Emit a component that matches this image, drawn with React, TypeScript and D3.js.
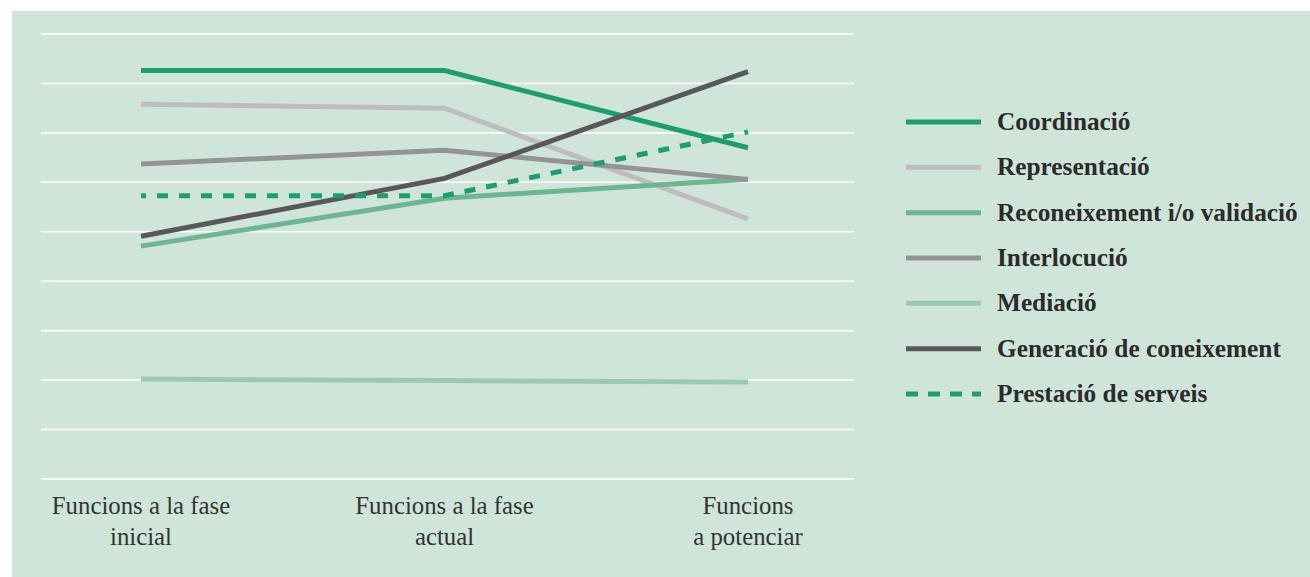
import React, { useEffect } from 'react';
import * as d3 from 'd3';

const phases = ['Funcions a la fase|inicial', 'Funcions a la fase|actual', 'Funcions|a potenciar'];

const seriesNames = [
  'Coordinació',
  'Representació',
  'Reconeixement i/o validació',
  'Interlocució',
  'Mediació',
  'Generació de coneixement',
  'Prestació de serveis',
];

const coordinacio = [8.26, 8.26, 6.7];
const representacio = [7.58, 7.5, 5.26];
const reconeixement = [4.71, 5.68, 6.06];
const interlocucio = [6.37, 6.65, 6.06];
const mediacio = [2.02, 1.99, 1.96];
const generacio = [4.91, 6.08, 8.24];
const prestacio = [5.73, 5.73, 7.02];

const seriesValues = [coordinacio, representacio, reconeixement, interlocucio, mediacio, generacio, prestacio];
const colors = ['#1f9d6f', '#bdbdc0', '#6db593', '#949497', '#9bcab3', '#58585b', '#1f9d6f'];
const dashed = [false, false, false, false, false, false, true];

const gridValues = [0, 1, 2, 3, 4, 5, 6, 7, 8, 9];

export default function App() {
  useEffect(() => {
    document.body.style.margin = '0';
  }, []);

  const x = d3.scalePoint<string>().domain(phases).range([141, 748]);
  const y = d3.scaleLinear().domain([0, 9]).range([479, 34]);
  const line = d3
    .line<number>()
    .x((_, i) => x(phases[i])!)
    .y(d => y(d));

  const legendY = d3.scalePoint<string>().domain(seriesNames).range([122, 394]);

  return (
    <svg width={1310} height={577} style={{ display: 'block' }}>
      <rect x={12} y={11} width={1298} height={566} fill="#d0e5da" />
      {gridValues.map(v => (
        <line key={v} x1={41} x2={854} y1={y(v)} y2={y(v)} stroke="#ffffff" strokeWidth={1.5} />
      ))}
      {seriesValues.map((vals, i) => (
        <path
          key={seriesNames[i]}
          d={line(vals)!}
          fill="none"
          stroke={colors[i]}
          strokeWidth={5}
          strokeDasharray={dashed[i] ? '11 11' : undefined}
          strokeDashoffset={dashed[i] ? 6 : undefined}
        />
      ))}
      {phases.map(p => (
        <text
          key={p}
          x={x(p)}
          textAnchor="middle"
          fontFamily="'Liberation Serif', serif"
          fontSize={24.8}
          fill="#333333"
        >
          {p.split('|').map((part, j) => (
            <tspan key={j} x={x(p)} y={514 + j * 31}>
              {part}
            </tspan>
          ))}
        </text>
      ))}
      {seriesNames.map((name, i) => (
        <g key={name} transform={`translate(0,${legendY(name)})`}>
          <line
            x1={906}
            x2={981}
            y1={0}
            y2={0}
            stroke={colors[i]}
            strokeWidth={5}
            strokeDasharray={dashed[i] ? '12 10' : undefined}
          />
          <text
            x={997}
            y={8}
            fontFamily="'Liberation Serif', serif"
            fontWeight="bold"
            fontSize={25.3}
            fill="#2b2b2b"
          >
            {name}
          </text>
        </g>
      ))}
    </svg>
  );
}
